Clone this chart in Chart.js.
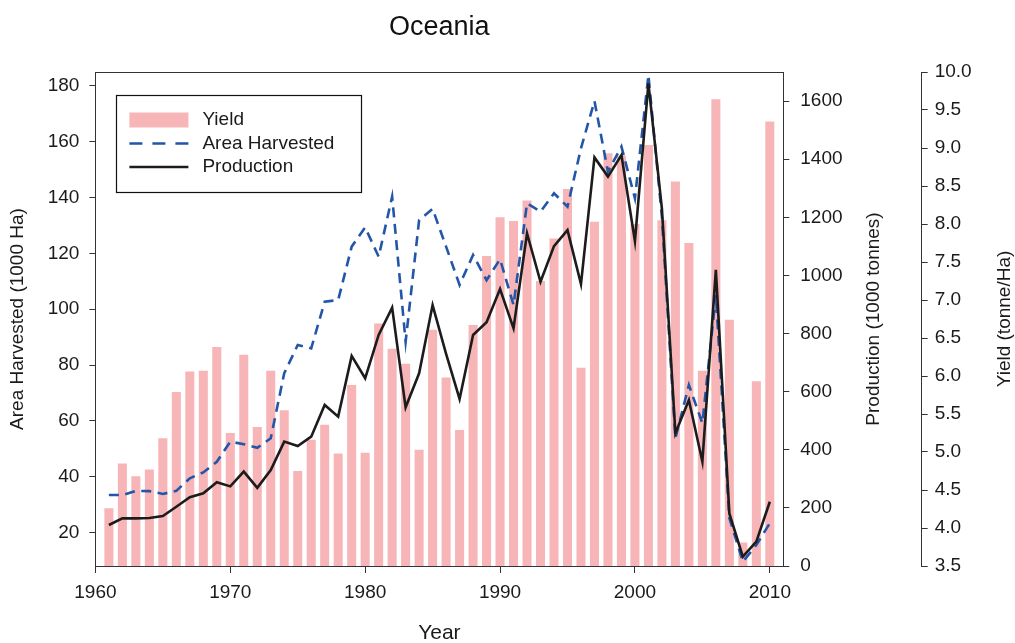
<!DOCTYPE html>
<html>
<head>
<meta charset="utf-8">
<script src="https://cdn.jsdelivr.net/npm/chart.js@4.4.1/dist/chart.umd.min.js"></script>
<style>
  html, body { margin: 0; padding: 0; background: #fff; }
  #wrap { width: 1015px; height: 643px; }
</style>
</head>
<body>
<div id="wrap"><canvas id="c" width="1015" height="643"></canvas></div>
<script>
// Oceania: yield, area harvested and production, 1961-2010
const years = [1961, 1962, 1963, 1964, 1965, 1966, 1967, 1968, 1969, 1970,
               1971, 1972, 1973, 1974, 1975, 1976, 1977, 1978, 1979, 1980,
               1981, 1982, 1983, 1984, 1985, 1986, 1987, 1988, 1989, 1990,
               1991, 1992, 1993, 1994, 1995, 1996, 1997, 1998, 1999, 2000,
               2001, 2002, 2003, 2004, 2005, 2006, 2007, 2008, 2009, 2010];

// tonne/Ha
const yieldVals = [4.26, 4.85, 4.68, 4.77, 5.18, 5.79, 6.06, 6.07, 6.38, 5.25,
                   6.28, 5.33, 6.07, 5.55, 4.75, 5.16, 5.36, 4.98, 5.88, 4.99,
                   6.69, 6.36, 6.16, 5.03, 6.61, 5.98, 5.29, 6.67, 7.58, 8.09,
                   8.04, 8.31, 7.25, 7.81, 8.46, 6.11, 8.03, 8.93, 8.90, 8.00,
                   9.04, 8.05, 8.56, 7.75, 6.07, 9.64, 6.74, 3.81, 5.93, 9.35];

// 1000 Ha
const areaVals = [33.5, 33.5, 35.0, 34.9, 33.9, 35.0, 39.5, 41.6, 45.4, 52.6,
                  51.7, 50.4, 53.8, 77.1, 87.2, 86.0, 102.7, 103.3, 122.4, 129.3,
                  118.8, 140.3, 88.4, 131.9, 135.9, 122.4, 108.7, 119.4, 110.4, 117.9,
                  101.5, 137.9, 134.9, 141.5, 136.7, 157.6, 174.5, 149.2, 158.2, 139.7,
                  183.8, 133.1, 53.8, 72.9, 59.2, 105.1, 25.3, 9.6, 15.6, 23.4];

// 1000 tonnes
const prodVals = [141, 164, 164, 165, 172, 204, 237, 250, 288, 274,
                  325, 269, 330, 428, 413, 445, 554, 514, 723, 646,
                  795, 889, 546, 663, 898, 730, 575, 795, 839, 953,
                  818, 1145, 978, 1101, 1156, 970, 1406, 1340, 1414, 1118,
                  1661, 1230, 457, 571, 359, 1019, 181, 32, 84, 221];

const yearTicks  = [1960, 1970, 1980, 1990, 2000, 2010];
const areaTicks  = [20, 40, 60, 80, 100, 120, 140, 160, 180];
const prodTicks  = [0, 200, 400, 600, 800, 1000, 1200, 1400, 1600];
const yieldTicks = [3.5, 4.0, 4.5, 5.0, 5.5, 6.0, 6.5, 7.0, 7.5, 8.0, 8.5, 9.0, 9.5, 10.0];

const INK = '#1a1a1a';
const AXIS = '#333';
Chart.defaults.font.family = "'Liberation Sans', Arial, Helvetica, sans-serif";
Chart.defaults.color = INK;

const pairs = vals => years.map((yr, i) => ({ x: yr, y: vals[i] }));
const useTicks = list => scale => { scale.ticks = list.map(v => ({ value: v })); };
const tickGrid = { display: true, drawOnChartArea: false, drawTicks: true, tickLength: 6, color: AXIS, lineWidth: 1 };
const axisBorder = { display: true, color: AXIS, width: 1 };

// box around the plotting region
const framePlugin = {
  id: 'frame',
  afterDraw(chart) {
    const { ctx, chartArea: a } = chart;
    ctx.save();
    ctx.strokeStyle = AXIS;
    ctx.lineWidth = 1;
    ctx.strokeRect(Math.round(a.left) + 0.5, Math.round(a.top) + 0.5,
                   Math.round(a.right - a.left), Math.round(a.bottom - a.top));
    ctx.restore();
  }
};

// upward-reading titles for the right-hand axes
const sideTitlesPlugin = {
  id: 'sideTitles',
  afterDraw(chart, args, opts) {
    const { ctx, chartArea: a } = chart;
    const midY = (a.top + a.bottom) / 2;
    ctx.save();
    ctx.fillStyle = INK;
    ctx.font = opts.font;
    ctx.textAlign = 'center';
    ctx.textBaseline = 'middle';
    for (const [id, dx] of Object.entries(opts.offsets)) {
      const s = chart.scales[id];
      ctx.save();
      ctx.translate(s.left + dx, midY);
      ctx.rotate(-Math.PI / 2);
      ctx.fillText(s.options.title.text, 0, 0);
      ctx.restore();
    }
    ctx.restore();
  }
};

// boxed legend in the upper-left corner of the plot
const boxLegendPlugin = {
  id: 'boxLegend',
  afterDraw(chart, args, opts) {
    const { ctx, chartArea: a } = chart;
    const x0 = a.left + opts.dx, y0 = a.top + opts.dy;
    ctx.save();
    ctx.fillStyle = '#fff';
    ctx.fillRect(x0, y0, opts.w, opts.h);
    ctx.strokeStyle = '#111';
    ctx.lineWidth = 1.2;
    ctx.strokeRect(Math.round(x0) + 0.5, Math.round(y0) + 0.5, opts.w, opts.h);
    ctx.font = opts.font;
    ctx.textBaseline = 'middle';
    ctx.textAlign = 'left';
    chart.data.datasets.forEach((ds, row) => {
      const cy = y0 + opts.firstRow + row * opts.rowGap;
      const sx = x0 + opts.swatchX, sw = opts.swatchW;
      if (ds.type === 'bar') {
        ctx.fillStyle = ds.backgroundColor;
        ctx.fillRect(sx, cy - 7.5, sw, 15);
      } else {
        ctx.strokeStyle = ds.borderColor;
        ctx.lineWidth = ds.borderWidth;
        ctx.setLineDash(ds.borderDash ? opts.legendDash : []);
        ctx.beginPath();
        ctx.moveTo(sx, cy);
        ctx.lineTo(sx + sw, cy);
        ctx.stroke();
        ctx.setLineDash([]);
      }
      ctx.fillStyle = INK;
      ctx.fillText(ds.label, x0 + opts.textX, cy);
    });
    ctx.restore();
  }
};

new Chart(document.getElementById('c'), {
  type: 'bar',
  data: {
    datasets: [
      {
        type: 'bar', label: 'Yield', data: pairs(yieldVals), yAxisID: 'yield',
        backgroundColor: '#f7b5b7', borderWidth: 0,
        barPercentage: 0.67, categoryPercentage: 1, order: 3
      },
      {
        type: 'line', label: 'Area Harvested', data: pairs(areaVals), yAxisID: 'area',
        borderColor: '#2356a8', borderWidth: 2.6, borderDash: [10, 6.5], borderCapStyle: 'butt',
        pointRadius: 0, tension: 0, fill: false, order: 2
      },
      {
        type: 'line', label: 'Production', data: pairs(prodVals), yAxisID: 'prod',
        borderColor: '#1c1c1c', borderWidth: 2.6,
        pointRadius: 0, tension: 0, fill: false, order: 1
      }
    ]
  },
  options: {
    responsive: false,
    animation: false,
    devicePixelRatio: 1,
    layout: { padding: 0 },
    plugins: {
      legend: { display: false },
      tooltip: { enabled: false },
      title: {
        display: true, text: 'Oceania', fullSize: false, color: '#111',
        font: { size: 27, weight: 'normal' }, padding: { top: 11.5, bottom: 28.1 }
      },
      sideTitles: { font: "19px 'Liberation Sans', Arial, sans-serif", offsets: { prod: 90, yield: 83 } },
      boxLegend: {
        font: "19px 'Liberation Sans', Arial, sans-serif",
        dx: 21, dy: 23, w: 245, h: 97,
        swatchX: 13, swatchW: 59, textX: 86, firstRow: 25, rowGap: 23.5,
        legendDash: [13, 10]
      }
    },
    scales: {
      x: {
        type: 'linear', min: 1960, max: 2011, offset: false,
        grid: { ...tickGrid, tickLength: 7, offset: false },
        border: axisBorder,
        afterBuildTicks: useTicks(yearTicks),
        ticks: { padding: 8, font: { size: 19 }, color: INK, maxRotation: 0, autoSkip: false,
                 callback: v => String(v) },
        title: { display: true, text: 'Year', font: { size: 21 }, color: INK, padding: { top: 0, bottom: -3 } },
        afterFit: s => { s.height = 77; }
      },
      area: {
        type: 'linear', position: 'left', min: 8.1, max: 184.9,
        grid: tickGrid, border: axisBorder,
        afterBuildTicks: useTicks(areaTicks),
        ticks: { padding: 10, font: { size: 19 }, color: INK, autoSkip: false, callback: v => String(v) },
        title: { display: true, text: 'Area Harvested (1000 Ha)', font: { size: 19 }, color: INK,
                 padding: { top: 6.6, bottom: 0 } },
        afterFit: s => { s.width = 95.4; }
      },
      prod: {
        type: 'linear', position: 'right', weight: 0, min: 0, max: 1700,
        grid: tickGrid, border: axisBorder,
        afterBuildTicks: useTicks(prodTicks),
        ticks: { padding: 11, font: { size: 19 }, color: INK, autoSkip: false, callback: v => String(v) },
        title: { display: false, text: 'Production (1000 tonnes)' },
        afterFit: s => { s.width = 138.4; }
      },
      yield: {
        type: 'linear', position: 'right', weight: 1, min: 3.5, max: 10,
        grid: tickGrid, border: axisBorder,
        afterBuildTicks: useTicks(yieldTicks),
        ticks: { padding: 7, font: { size: 19 }, color: INK, autoSkip: false, callback: v => Number(v).toFixed(1) },
        title: { display: false, text: 'Yield (tonne/Ha)' },
        afterFit: s => { s.width = 93.3; }
      }
    }
  },
  plugins: [framePlugin, sideTitlesPlugin, boxLegendPlugin]
});
</script>
</body>
</html>
